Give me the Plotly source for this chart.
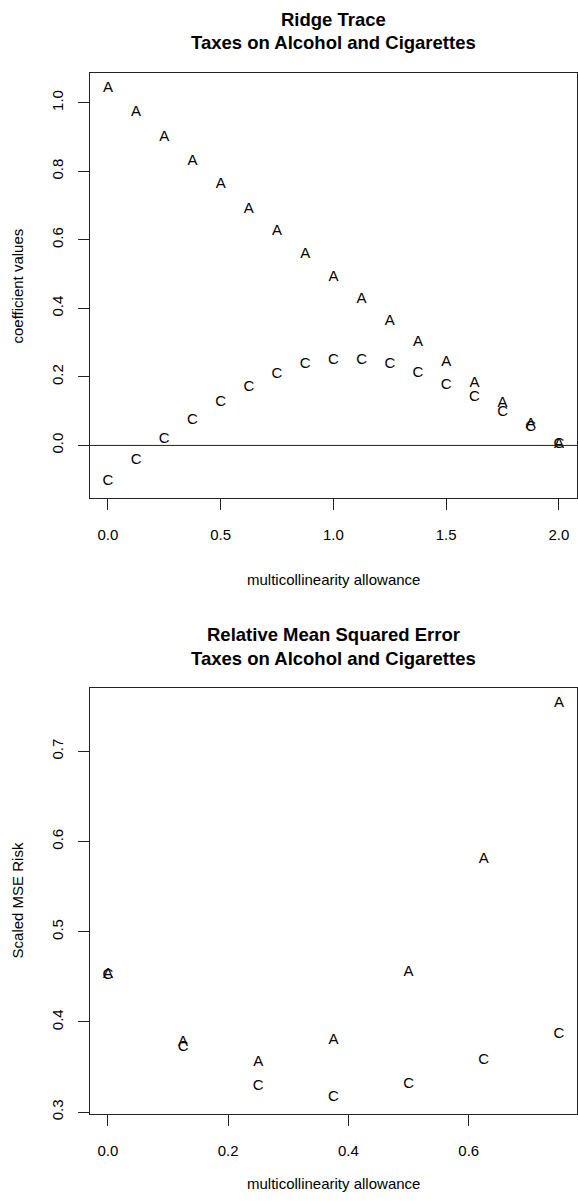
import plotly.graph_objects as go

W, H = 578, 1201

# ---- data: ridge trace ----
k_trace = [0.0, 0.125, 0.25, 0.375, 0.5, 0.625, 0.75, 0.875, 1.0,
           1.125, 1.25, 1.375, 1.5, 1.625, 1.75, 1.875, 2.0]
coef_A = [1.041, 0.971, 0.898, 0.828, 0.761, 0.690, 0.624, 0.557, 0.490,
          0.427, 0.363, 0.301, 0.242, 0.182, 0.124, 0.061, 0.003]
coef_C = [-0.105, -0.044, 0.019, 0.073, 0.127, 0.170, 0.208, 0.237, 0.248,
          0.248, 0.237, 0.211, 0.177, 0.141, 0.098, 0.053, 0.003]

# ---- data: relative MSE ----
k_mse = [0.0, 0.125, 0.25, 0.375, 0.5, 0.625, 0.75]
mse_A = [0.453, 0.378, 0.355, 0.380, 0.455, 0.580, 0.753]
mse_C = [0.452, 0.372, 0.329, 0.316, 0.331, 0.358, 0.386]

top_xticks = [0.0, 0.5, 1.0, 1.5, 2.0]
top_yticks = [0.0, 0.2, 0.4, 0.6, 0.8, 1.0]
bot_xticks = [0.0, 0.2, 0.4, 0.6]
bot_yticks = [0.3, 0.4, 0.5, 0.6, 0.7]

FONT = "Liberation Sans, Arial, Helvetica, sans-serif"
TICK_SIZE = 15
MARK_SIZE = 15
TITLE_SIZE = 18.5


def py(p):
    return 1 - p / H


fig = go.Figure()

for xs, ys, ch, xa, ya in [
    (k_trace, coef_A, "A", "x", "y"),
    (k_trace, coef_C, "C", "x", "y"),
    (k_mse, mse_A, "A", "x2", "y2"),
    (k_mse, mse_C, "C", "x2", "y2"),
]:
    fig.add_trace(go.Scatter(
        x=xs, y=ys, mode="text", text=[ch] * len(xs),
        textposition="middle center",
        textfont=dict(family=FONT, size=MARK_SIZE, color="black"),
        xaxis=xa, yaxis=ya, showlegend=False, hoverinfo="x+y",
    ))

axis_common = dict(
    showgrid=False, zeroline=False, showline=True, mirror=True,
    linecolor="#222", linewidth=1, ticks="outside", ticklen=11,
    tickcolor="#222", tickwidth=1,
    tickfont=dict(family=FONT, size=TICK_SIZE, color="black"),
    tickformat=".1f",
)

xdom = [90 / W, 1.0]
fig.update_layout(
    width=W, height=H,
    margin=dict(l=0, r=0, t=0, b=0),
    paper_bgcolor="white", plot_bgcolor="white",
    xaxis=dict(axis_common, domain=xdom, range=[-0.08, 2.08],
               tickvals=top_xticks, anchor="y", ticklabelstandoff=12),
    yaxis=dict(axis_common, domain=[py(500.7), py(73.3)], range=[-0.154, 1.087],
               tickvals=top_yticks, anchor="x", tickangle=-90, ticklabelstandoff=9),
    xaxis2=dict(axis_common, domain=xdom, range=[-0.03, 0.78],
                tickvals=bot_xticks, anchor="y2", ticklabelstandoff=12),
    yaxis2=dict(axis_common, domain=[py(1120), py(691)], range=[0.2975, 0.7707],
                tickvals=bot_yticks, anchor="x2", tickangle=-90, ticklabelstandoff=9),
)

# horizontal reference line at zero on ridge trace
fig.add_shape(type="line", xref="x domain", yref="y", x0=0, x1=1, y0=0, y1=0,
              line=dict(color="#222", width=1))

ann = []
def text(x, y, s, size, angle=0):
    ann.append(dict(
        x=x / W, y=py(y), xref="paper", yref="paper", text=s, showarrow=False,
        xanchor="center", yanchor="middle", textangle=angle,
        font=dict(family=FONT, size=size, color="black"),
    ))

cx = (90 + 578) / 2
text(cx, 20, "<b>Ridge Trace</b>", TITLE_SIZE)
text(cx, 43, "<b>Taxes on Alcohol and Cigarettes</b>", TITLE_SIZE)
text(cx, 582, "multicollinearity allowance", TICK_SIZE)
text(18, 287, "coefficient values", TICK_SIZE, angle=-90)

text(cx, 638, "<b>Relative Mean Squared Error</b>", TITLE_SIZE)
text(cx, 662, "<b>Taxes on Alcohol and Cigarettes</b>", TITLE_SIZE)
text(cx, 1189, "multicollinearity allowance", TICK_SIZE)
text(18, 905, "Scaled MSE Risk", TICK_SIZE, angle=-90)

fig.update_layout(annotations=ann)

fig.write_html(
    "out.html",
    config={"displayModeBar": False},
    post_script="document.body.style.margin='0px';document.body.style.overflow='hidden';",
)
